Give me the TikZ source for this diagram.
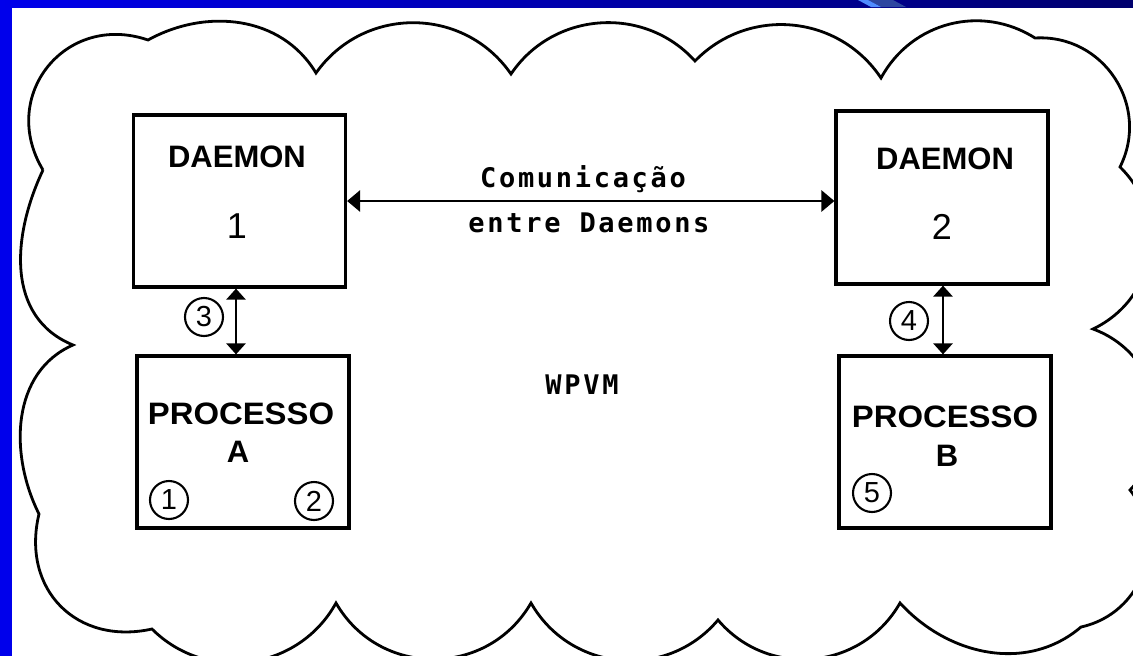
\documentclass[tikz,border=0pt]{standalone}
\usepackage{fontspec}
\setmainfont{Liberation Sans}
\newfontfamily\monofont{DejaVu Sans Mono}[LetterSpace=10]
\usetikzlibrary{calc,arrows.meta}

\definecolor{barblue}{RGB}{0,0,235}
\definecolor{bardark}{RGB}{0,0,110}
\definecolor{streaklight}{RGB}{80,140,255}
\definecolor{streakmid}{RGB}{45,70,160}

\tikzset{
  cloudline/.style={draw=black, line width=2.8pt},
  box/.style={draw, line width=3.2pt, minimum width=212pt, minimum height=172pt, inner sep=0pt},
  boxtitle/.style={font=\fontsize{31}{31}\selectfont\bfseries, anchor=base, inner sep=0pt},
  bignum/.style={font=\fontsize{36}{36}\selectfont, anchor=base, inner sep=0pt},
  stepno/.style={circle, draw, line width=2.1pt, minimum size=38pt, inner sep=0pt,
                 font=\fontsize{29}{29}\selectfont},
  monolabel/.style={font=\monofont\bfseries\fontsize{27}{27}\selectfont, anchor=base, inner sep=0pt},
  dblv/.style={{Triangle[length=11pt,width=19pt]}-{Triangle[length=11pt,width=19pt]}, line width=2.6pt},
  dblh/.style={{Triangle[length=13pt,width=21pt]}-{Triangle[length=13pt,width=21pt]}, line width=2.8pt},
}

\begin{document}
\begin{tikzpicture}[x=1pt, y=-1pt]
\useasboundingbox (0,0) rectangle (1133,656);
\fill[white] (0,0) rectangle (1133,656);

\begin{scope}
\clip (0,0) rectangle (1133,656);

% cusps of the cloud, clockwise from the upper left
\coordinate (c1) at (43,170);
\coordinate (c2) at (148,40);
\coordinate (c3) at (316,73);
\coordinate (c4) at (511,74);
\coordinate (c5) at (695,61);
\coordinate (c6) at (881,78);
\coordinate (c7) at (1035,38);
\coordinate (c8) at (1120,167);
\coordinate (c9) at (1093,329);
\coordinate (c10) at (1130,490);
\coordinate (c11) at (1081,627);
\coordinate (c12) at (900,603);
\coordinate (c13) at (718,620);
\coordinate (c14) at (531,603);
\coordinate (c15) at (336,603);
\coordinate (c16) at (152,629);
\coordinate (c17) at (39,514);
\coordinate (c18) at (73,345);

% each bump is a near-circular arc bulging outwards
\draw[cloudline] (c1)
  .. controls ($(c1)!0.52!70:(c2)$) and ($(c2)!0.52!-70:(c1)$) .. (c2)
  .. controls ($(c2)!0.39!40:(c3)$) and ($(c3)!0.39!-48:(c2)$) .. (c3)
  .. controls ($(c3)!0.424!55:(c4)$) and ($(c4)!0.424!-55:(c3)$) .. (c4)
  .. controls ($(c4)!0.41!52:(c5)$) and ($(c5)!0.41!-52:(c4)$) .. (c5)
  .. controls ($(c5)!0.41!51:(c6)$) and ($(c6)!0.41!-51:(c5)$) .. (c6)
  .. controls ($(c6)!0.40!47:(c7)$) and ($(c7)!0.40!-47:(c6)$) .. (c7)
  .. controls ($(c7)!0.444!60:(c8)$) and ($(c8)!0.444!-60:(c7)$) .. (c8)
  .. controls ($(c8)!0.43!55:(c9)$) and ($(c9)!0.43!-55:(c8)$) .. (c9)
  .. controls ($(c9)!0.43!57:(c10)$) and ($(c10)!0.43!-57:(c9)$) .. (c10)
  .. controls ($(c10)!0.435!58:(c11)$) and ($(c11)!0.435!-58:(c10)$) .. (c11)
  .. controls ($(c11)!0.39!48:(c12)$) and ($(c12)!0.39!-40:(c11)$) .. (c12)
  .. controls ($(c12)!0.424!55:(c13)$) and ($(c13)!0.424!-55:(c12)$) .. (c13)
  .. controls ($(c13)!0.424!55:(c14)$) and ($(c14)!0.424!-55:(c13)$) .. (c14)
  .. controls ($(c14)!0.444!60:(c15)$) and ($(c15)!0.444!-60:(c14)$) .. (c15)
  .. controls ($(c15)!0.415!53:(c16)$) and ($(c16)!0.415!-53:(c15)$) .. (c16)
  .. controls ($(c16)!0.48!58:(c17)$) and ($(c17)!0.48!-58:(c16)$) .. (c17)
  .. controls ($(c17)!0.39!38:(c18)$) and ($(c18)!0.39!-55:(c17)$) .. (c18)
  .. controls ($(c18)!0.41!58:(c1)$) and ($(c1)!0.41!-35:(c18)$) .. (c1);
\end{scope}

% boxes
\node[box] (d1) at (239.5,201) {};
\node[box, minimum height=173pt] (d2) at (942,197.5) {};
\node[box] (pa) at (243,442) {};
\node[box] (pb) at (945,442) {};

% box texts
\node[boxtitle] (d1t) at (237,167) {DAEMON};
\node[bignum]   (d1n) at (237,238) {1};
\node[boxtitle] (d2t) at (945,169) {DAEMON};
\node[bignum]   (d2n) at (942,239) {2};
\node[boxtitle] (pat) at (241,424) {\scalebox{1.06}[1]{PROCESSO}};
\node[boxtitle] (pal) at (238,462) {A};
\node[boxtitle] (pbt) at (945,427) {\scalebox{1.06}[1]{PROCESSO}};
\node[boxtitle] (pbl) at (947,466) {B};

% numbered steps
\node[stepno] (s1) at (169,500) {1};
\node[stepno] (s2) at (314,501) {2};
\node[stepno] (s3) at (204,317) {3};
\node[stepno] (s4) at (909,321) {4};
\node[stepno] (s5) at (872,493) {5};

% connectors
\draw[dblh] (d1.east) -- (d1.east -| d2.west);
\draw[dblv] ([xshift=-3.5pt]d1.south) -- ([xshift=-3.5pt]d1.south |- pa.north);
\draw[dblv] ([xshift=1pt]d2.south) -- ([xshift=1pt]d2.south |- pb.north);

\node[monolabel] (com1) at (583,187) {Comunicação};
\node[monolabel] (com2) at (589,232) {entre Daemons};
\node[monolabel] (wpvm) at (582,394) {WPVM};

% frame: left bar and shaded top bar
\fill[barblue] (0,0) rectangle (12,656);
\shade[left color=barblue, right color=bardark] (0,0) rectangle (1133,7);
\fill[streakmid] (868,0) -- (893,0) -- (906,7) -- (881,7) -- cycle;
\fill[streaklight] (858,0) -- (868,0) -- (881,7) -- (871,7) -- cycle;
\end{tikzpicture}
\end{document}
